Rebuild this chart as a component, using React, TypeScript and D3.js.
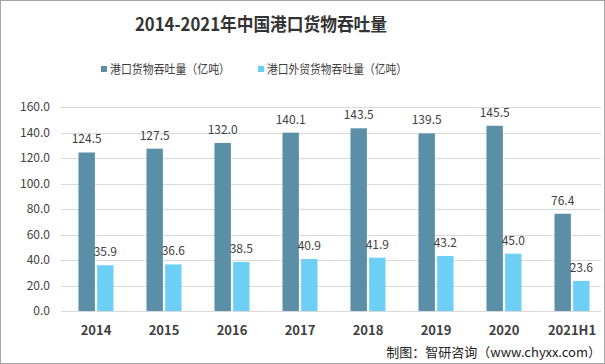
import { useEffect, useRef } from 'react';
import * as d3 from 'd3';

const years = ['2014', '2015', '2016', '2017', '2018', '2019', '2020', '2021H1'];
const totalCargo = [124.5, 127.5, 132.0, 140.1, 143.5, 139.5, 145.5, 76.4];
const foreignCargo = [35.9, 36.6, 38.5, 40.9, 41.9, 43.2, 45.0, 23.6];
const yTicks = [0, 20, 40, 60, 80, 100, 120, 140, 160];
const seriesNames = ['港口货物吞吐量（亿吨）', '港口外贸货物吞吐量（亿吨）'];

const COLORS = ['#5b8fa8', '#6dcff5'];
const FONT = '"Noto Sans CJK SC", "Noto Sans", sans-serif';

const W = 605;
const H = 364;

const App = () => {
  const svgRef = useRef<SVGSVGElement>(null);

  useEffect(() => {
    document.body.style.margin = '0';
    const svg = d3.select(svgRef.current);
    svg.selectAll('*').remove();

    svg.append('rect')
      .attr('x', 0.5).attr('y', 0.5)
      .attr('width', W - 1).attr('height', H - 1)
      .attr('fill', '#fff').attr('stroke', '#a6a6a6');

    const x = d3.scaleBand().domain(years).range([62, 606]);
    const y = d3.scaleLinear().domain([0, 160]).range([311, 107.3]);
    const inner = d3.scaleBand().domain(['0', '1']).range([16.5, 51.5]).paddingInner(0.12);

    // grid
    svg.append('g')
      .selectAll('line')
      .data(yTicks)
      .join('line')
      .attr('x1', 61).attr('x2', 601)
      .attr('y1', d => Math.round(y(d)) + 0.5)
      .attr('y2', d => Math.round(y(d)) + 0.5)
      .attr('stroke', '#d9d9d9');

    // y labels
    svg.append('g')
      .selectAll('text')
      .data(yTicks)
      .join('text')
      .attr('x', 50)
      .attr('y', d => y(d) + 4)
      .attr('text-anchor', 'end')
      .attr('font-family', FONT)
      .attr('font-size', 12)
      .attr('fill', '#404040')
      .text(d => d.toFixed(1));

    const series = [totalCargo, foreignCargo];
    series.forEach((vals, si) => {
      const g = svg.append('g');
      g.selectAll('rect')
        .data(vals)
        .join('rect')
        .attr('x', (_, i) => (x(years[i]) as number) + (inner(String(si)) as number))
        .attr('y', d => y(d))
        .attr('width', inner.bandwidth())
        .attr('height', d => y(0) - y(d))
        .attr('fill', COLORS[si]);
      g.selectAll('text')
        .data(vals)
        .join('text')
        .attr('x', (_, i) => (x(years[i]) as number) + (inner(String(si)) as number) + inner.bandwidth() / 2)
        .attr('y', d => y(d) - 9)
        .attr('text-anchor', 'middle')
        .attr('font-family', FONT)
        .attr('font-size', 12)
        .attr('fill', '#404040')
        .text(d => d.toFixed(1));
    });

    // x labels
    svg.append('g')
      .selectAll('text')
      .data(years)
      .join('text')
      .attr('x', d => (x(d) as number) + x.bandwidth() / 2)
      .attr('y', 335)
      .attr('text-anchor', 'middle')
      .attr('font-family', FONT)
      .attr('font-size', 13)
      .attr('font-weight', 'bold')
      .attr('fill', '#404040')
      .text(d => d);

    // title
    svg.append('text')
      .attr('x', 135)
      .attr('y', 31)
      .attr('font-family', FONT)
      .attr('font-size', 18)
      .attr('font-weight', 'bold')
      .attr('fill', '#333')
      .attr('textLength', 252)
      .attr('lengthAdjust', 'spacingAndGlyphs')
      .text('2014-2021年中国港口货物吞吐量');

    // legend
    const legendX = [101, 258];
    const legendLen = [120, 140];
    seriesNames.forEach((name, i) => {
      svg.append('rect')
        .attr('x', legendX[i]).attr('y', 66)
        .attr('width', 6).attr('height', 6)
        .attr('fill', COLORS[i]);
      svg.append('text')
        .attr('x', legendX[i] + 9)
        .attr('y', 74)
        .attr('font-family', FONT)
        .attr('font-size', 12.5)
        .attr('fill', '#404040')
        .attr('textLength', legendLen[i])
        .attr('lengthAdjust', 'spacingAndGlyphs')
        .text(name);
    });

    // source
    svg.append('text')
      .attr('x', 601)
      .attr('y', 357)
      .attr('text-anchor', 'end')
      .attr('font-family', FONT)
      .attr('font-size', 13)
      .attr('fill', '#222')
      .text('制图：智研咨询（www.chyxx.com）');
  }, []);

  return <svg ref={svgRef} width={W} height={H} style={{ display: 'block' }} />;
};

export default App;
